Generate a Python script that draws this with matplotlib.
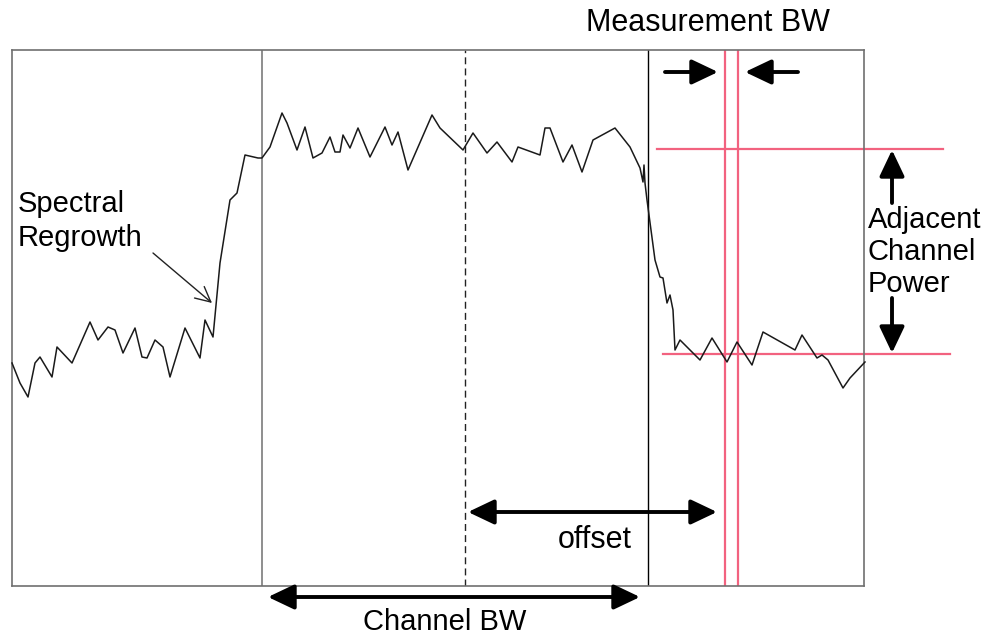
import numpy as np
from matplotlib import pyplot as plt

plt.rcParams['font.family'] = ['Liberation Sans', 'DejaVu Sans']

# spectrum trace (frequency bin, power level)
freq = [0, 8, 16, 23, 28, 40, 45, 60, 78, 86, 96, 103, 111, 123, 130, 135,
        143, 151, 158, 173, 188, 193, 201, 208, 218, 225, 233, 246, 250, 258,
        270, 275, 285, 293, 301, 310, 318, 323, 328, 331, 338, 346, 358, 373,
        380, 386, 396, 420, 428, 451, 461, 475, 485, 500, 506, 528, 533, 538,
        551, 560, 570, 581, 603, 618, 628, 631, 632, 633, 635, 643, 648, 651,
        655, 658, 661, 663, 668, 688, 700, 715, 725, 740, 751, 783, 790, 805,
        810, 816, 831, 838, 853]
power = [223, 203, 189, 223, 229, 209, 239, 223, 264, 246, 259, 256, 233, 258,
         229, 228, 246, 239, 209, 258, 228, 266, 249, 323, 386, 393, 431, 428,
         428, 439, 473, 463, 436, 459, 428, 433, 449, 434, 434, 451, 438, 458,
         429, 459, 441, 454, 416, 471, 458, 436, 453, 433, 444, 424, 439, 431,
         458, 458, 424, 441, 414, 446, 458, 439, 418, 404, 421, 403, 386, 326,
         309, 308, 283, 291, 276, 236, 246, 226, 248, 224, 244, 221, 254, 236,
         251, 228, 231, 226, 198, 208, 224]

ch_left, ch_center, ch_right = 250, 453, 636
meas_lo, meas_hi = 713, 726
main_level, adj_level = 437, 232

W, H = 852, 536

fig = plt.figure(figsize=(9.85, 6.38), dpi=100)
ax = fig.add_axes([12 / 985, 52 / 638, 852 / 985, 536 / 638])
ax.set_xlim(0, W)
ax.set_ylim(0, H)
ax.set_xticks([])
ax.set_yticks([])
for s in ax.spines.values():
    s.set_color('#707070')
    s.set_linewidth(1.2)

ax.plot(freq, power, color='#1a1a1a', lw=1.1, clip_on=False, zorder=3,
        solid_joinstyle='round')

ax.axvline(ch_left, color='#707070', lw=1.1)
ax.axvline(ch_center, color='#222222', lw=1.0, ls=(0, (5, 3)))
ax.axvline(ch_right, color='black', lw=1.0)

red = '#f2627f'
ax.axvline(meas_lo, color=red, lw=1.6)
ax.axvline(meas_hi, color=red, lw=1.6)
ax.plot([645, 931], [main_level, main_level], color=red, lw=1.6, clip_on=False)
ax.plot([651, 938], [adj_level, adj_level], color=red, lw=1.6, clip_on=False)


def arrow(ax, start, end, style='-|>'):
    ax.annotate('', xy=end, xytext=start, annotation_clip=False,
                arrowprops=dict(arrowstyle=style + ',head_length=0.8,head_width=0.38',
                                mutation_scale=20, lw=2.8, color='black',
                                shrinkA=0, shrinkB=0))


# measurement bandwidth arrows
arrow(ax, (653, 514), (706, 514))
arrow(ax, (786, 514), (733, 514))
# adjacent channel power arrows
arrow(ax, (880, 383), (880, 436))
arrow(ax, (880, 288), (880, 233))
# offset and channel bandwidth
arrow(ax, (456, 74), (705, 74), style='<|-|>')
arrow(ax, (256, -11), (628, -11), style='<|-|>')

# spectral regrowth pointer
ax.annotate('', xy=(200, 283), xytext=(141, 333), annotation_clip=False,
            arrowprops=dict(arrowstyle='->,head_length=0.6,head_width=0.3',
                            mutation_scale=18, lw=1.0, color='#222222',
                            shrinkA=0, shrinkB=0))

ax.text(696, 563, 'Measurement BW', ha='center', va='center', fontsize=22)
ax.text(856, 334, 'Adjacent\nChannel\nPower', ha='left', va='center',
        fontsize=21, linespacing=1.17)
ax.text(6, 365, 'Spectral\nRegrowth', ha='left', va='center', fontsize=21,
        linespacing=1.3)
ax.text(583, 46, 'offset', ha='center', va='center', fontsize=22)
ax.text(433, -36, 'Channel BW', ha='center', va='center', fontsize=21)

fig.savefig('out.png', dpi=100)
